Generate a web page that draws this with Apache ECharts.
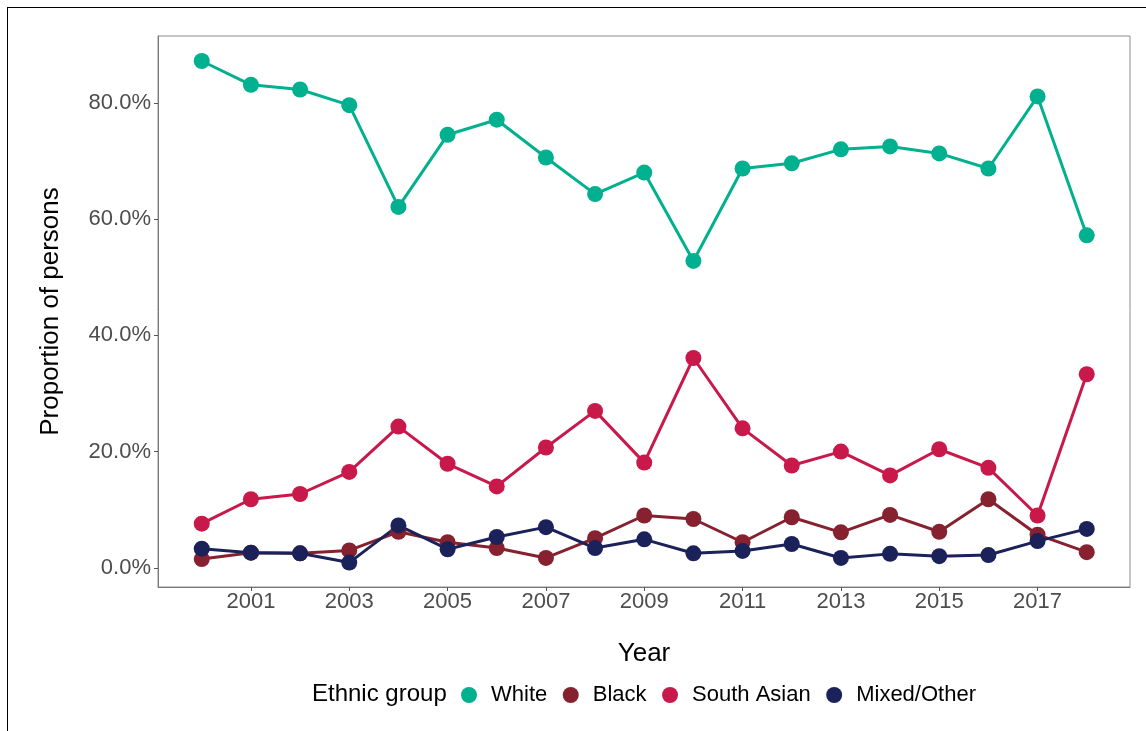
<!DOCTYPE html>
<html>
<head>
<meta charset="utf-8">
<title>Proportion of persons by ethnic group</title>
<script src="https://cdn.jsdelivr.net/npm/echarts@6/dist/echarts.min.js"></script>
<style>
  html, body { margin: 0; padding: 0; background: #ffffff; }
  #wrap { position: relative; width: 1146px; height: 731px; overflow: hidden; }
  #frame { position: absolute; left: 7px; top: 7px; right: -4px; bottom: -4px; border-left: 1.5px solid #000; border-top: 1.5px solid #000; pointer-events: none; }
  #chart { position: absolute; left: 0; top: 0; width: 1146px; height: 731px; }
</style>
</head>
<body>
<div id="wrap">
  <div id="chart"></div>
  <div id="frame"></div>
</div>
<script>
// Annual share of persons in each ethnic group (%)
const years = [2000, 2001, 2002, 2003, 2004, 2005, 2006, 2007, 2008, 2009,
               2010, 2011, 2012, 2013, 2014, 2015, 2016, 2017, 2018];
const white      = [87.2, 83.1, 82.3, 79.6, 62.1, 74.5, 77.1, 70.6, 64.3, 68.0,
                    52.8, 68.7, 69.6, 72.0, 72.5, 71.3, 68.7, 81.1, 57.2];
const black      = [1.5, 2.6, 2.5, 3.0, 6.2, 4.4, 3.4, 1.7, 5.1, 9.0,
                    8.4, 4.4, 8.7, 6.1, 9.1, 6.2, 11.8, 5.7, 2.7];
const southAsian = [7.6, 11.8, 12.7, 16.5, 24.3, 17.9, 14.0, 20.7, 27.0, 18.1,
                    36.1, 24.0, 17.6, 20.0, 15.9, 20.4, 17.2, 9.0, 33.3];
const mixedOther = [3.3, 2.6, 2.5, 0.9, 7.3, 3.2, 5.3, 7.0, 3.4, 4.9,
                    2.5, 2.9, 4.1, 1.7, 2.4, 2.0, 2.2, 4.6, 6.7];

const groupNames = ['White', 'Black', 'South Asian', 'Mixed/Other'];
const groupValues = [white, black, southAsian, mixedOther];
const groupColors = ['#00B08E', '#86212F', '#C9184A', '#1B2159'];

const xTicks = [2001, 2003, 2005, 2007, 2009, 2011, 2013, 2015, 2017];
const yTicks = [0, 20, 40, 60, 80];

const FONT = '"Liberation Sans", Arial, sans-serif';

function pairs(values) {
  return years.map((y, i) => [y, values[i]]);
}

// Lines first, then all the points on top of every line
const lineSeries = groupNames.map((name, i) => ({
  name: name,
  type: 'line',
  data: pairs(groupValues[i]),
  showSymbol: false,
  symbol: 'none',
  lineStyle: { color: groupColors[i], width: 3 },
  itemStyle: { color: groupColors[i] },
  z: 2,
  silent: true,
  animation: false
}));
const pointSeries = groupNames.map((name, i) => ({
  name: name,
  type: 'scatter',
  data: pairs(groupValues[i]),
  symbol: 'circle',
  symbolSize: 16,
  itemStyle: { color: groupColors[i], opacity: 1 },
  z: 3,
  animation: false
}));

const chart = echarts.init(document.getElementById('chart'), null, { renderer: 'canvas' });
chart.setOption({
  backgroundColor: '#ffffff',
  animation: false,
  textStyle: { fontFamily: FONT },
  grid: {
    left: 158, top: 36, right: 16, bottom: 144,
    show: true, borderColor: '#8c8c8c', borderWidth: 1, backgroundColor: '#ffffff'
  },
  title: {
    text: 'Ethnic group',
    left: 307, top: 677,
    textStyle: { fontFamily: FONT, fontSize: 24, fontWeight: 'normal', color: '#000' }
  },
  legend: {
    data: groupNames,
    left: 456, top: 679,
    icon: 'circle',
    itemWidth: 34, itemHeight: 16, itemGap: 15.5,
    textStyle: { fontFamily: FONT, fontSize: 22, color: '#000' }
  },
  xAxis: {
    type: 'value',
    min: 1999.11, max: 2018.88,
    name: 'Year',
    nameLocation: 'middle',
    nameGap: 54,
    nameTextStyle: { fontFamily: FONT, fontSize: 26, color: '#000' },
    splitLine: { show: false },
    axisLine: { show: true, onZero: false, lineStyle: { color: '#7a7a7a', width: 1 } },
    axisTick: { show: true, length: 4, customValues: xTicks, lineStyle: { color: '#555' } },
    axisLabel: {
      customValues: xTicks, margin: 4,
      fontFamily: FONT, fontSize: 22, color: '#4D4D4D',
      formatter: v => String(v)
    }
  },
  yAxis: {
    type: 'value',
    min: -3.3, max: 91.5,
    name: 'Proportion of persons',
    nameLocation: 'middle',
    nameGap: 94,
    nameTextStyle: { fontFamily: FONT, fontSize: 26, color: '#000' },
    splitLine: { show: false },
    axisLine: { show: true, onZero: false, lineStyle: { color: '#7a7a7a', width: 1 } },
    axisTick: { show: true, length: 4, customValues: yTicks, lineStyle: { color: '#555' } },
    axisLabel: {
      customValues: yTicks, margin: 7,
      fontFamily: FONT, fontSize: 22, color: '#4D4D4D',
      formatter: v => v.toFixed(1) + '%'
    }
  },
  series: lineSeries.concat(pointSeries)
});
</script>
</body>
</html>
